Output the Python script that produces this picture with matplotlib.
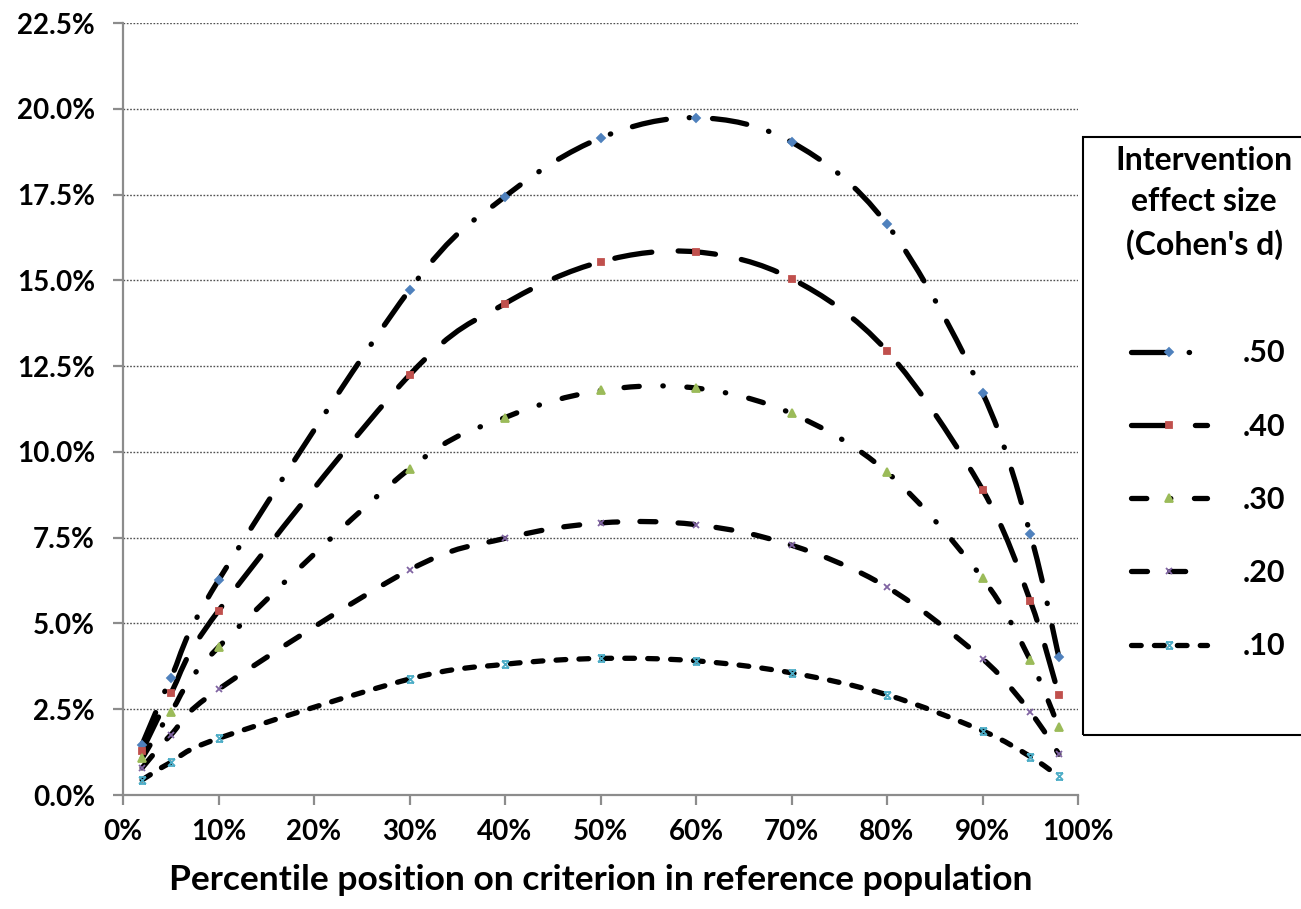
import numpy as np
import matplotlib
matplotlib.use("Agg")
import matplotlib.pyplot as plt
from matplotlib.path import Path
from matplotlib.patches import PathPatch, Rectangle
from matplotlib.lines import Line2D
from matplotlib.ticker import FuncFormatter, MultipleLocator

plt.rcParams['font.family'] = ['Lato', 'DejaVu Sans']
plt.rcParams['lines.scale_dashes'] = False

# percentile position (x, %) and share of population moved past it (y, %)
pct = [2, 5, 10, 30, 40, 50, 60, 70, 80, 90, 95, 98]

d50 = [1.47, 3.40, 6.26, 14.72, 17.44, 19.15, 19.74, 19.03, 16.63, 11.72, 7.61, 4.01]
d40 = [1.29, 2.96, 5.37, 12.24, 14.32, 15.54, 15.83, 15.05, 12.94, 8.90, 5.66, 2.91]
d30 = [1.07, 2.41, 4.31, 9.51, 11.00, 11.79, 11.86, 11.12, 9.41, 6.32, 3.93, 1.97]
d20 = [0.79, 1.75, 3.08, 6.56, 7.48, 7.93, 7.88, 7.28, 6.06, 3.97, 2.42, 1.19]
d10 = [0.44, 0.95, 1.65, 3.38, 3.81, 3.98, 3.91, 3.56, 2.92, 1.87, 1.12, 0.54]

labels = ['.50', '.40', '.30', '.20', '.10']
series = [d50, d40, d30, d20, d10]

# hourglass-like marker for the last series
star = Path([(-1, -1), (1, 1), (-1, 1), (1, -1), (-1, 1), (1, 1), (-1, -1), (1, -1)],
            [Path.MOVETO, Path.LINETO] * 4)

colors = ['#4F81BD', '#C0504D', '#9BBB59', '#8064A2', '#4BACC6']
markers = ['D', 's', '^', 'x', star]
msizes = [4.5, 5, 6, 5, 5]
dashes = [(0, (25, 16.5, 0.3, 16.5)),   # long dash dot
          (0, (27, 19)),                # long dash
          (0, (11, 17, 0.3, 17)),       # dash dot
          (0, (11.5, 16)),              # dash
          (0, (7, 9.5))]                # short dash
LW = 3.8


def smooth_path(x, y):
    # Catmull-Rom style bezier, like the spreadsheet "smoothed line"
    pts = np.column_stack([x, y]).astype(float)
    n = len(pts)
    verts = [pts[0]]
    codes = [Path.MOVETO]
    for i in range(n - 1):
        p0 = pts[max(i - 1, 0)]
        p1 = pts[i]
        p2 = pts[i + 1]
        p3 = pts[min(i + 2, n - 1)]
        verts += [p1 + (p2 - p0) / 6, p2 - (p3 - p1) / 6, p2]
        codes += [Path.CURVE4] * 3
    return Path(verts, codes)


fig = plt.figure(figsize=(13.01, 9.09), dpi=100)
ax = fig.add_axes([123 / 1301, 1 - 795 / 909, (1078 - 123) / 1301, (795 - 23) / 909])

handles = []
for vals, c, m, ms, ls in zip(series, colors, markers, msizes, dashes):
    patch = PathPatch(smooth_path(pct, vals), fill=False, edgecolor='black', lw=LW,
                      linestyle=ls, capstyle='round', zorder=2)
    ax.add_patch(patch)
    ax.plot(pct, vals, linestyle='none', marker=m, ms=ms, color=c, mew=1.3, zorder=3)
    handles.append(Line2D([], [], color='black', lw=LW, linestyle=ls, dash_capstyle='round',
                          marker=m, ms=ms, markerfacecolor=c, markeredgecolor=c, mew=1.3))

ax.set_xlim(0, 100)
ax.set_ylim(0, 22.5)
ax.xaxis.set_major_locator(MultipleLocator(10))
ax.yaxis.set_major_locator(MultipleLocator(2.5))
ax.xaxis.set_major_formatter(FuncFormatter(lambda v, p: f'{v:.0f}%'))
ax.yaxis.set_major_formatter(FuncFormatter(lambda v, p: f'{v:.1f}%'))

ax.yaxis.grid(True, linestyle=(0, (1.2, 1.2)), color='#505050', lw=1.0)
ax.set_axisbelow(True)
for s in ['top', 'right']:
    ax.spines[s].set_visible(False)
for s in ['left', 'bottom']:
    ax.spines[s].set_color('#8c8c8c')
    ax.spines[s].set_linewidth(1.6)
ax.tick_params(axis='both', direction='out', length=7.2, width=1.6, color='#8c8c8c',
               labelsize=20)
ax.tick_params(axis='y', pad=13)
ax.tick_params(axis='x', pad=10)
for t in ax.get_xticklabels() + ax.get_yticklabels():
    t.set_fontweight('bold')

ax.set_xlabel('Percentile position on criterion in reference population',
              fontsize=25.5, fontweight='bold', labelpad=14)

# legend box, title and entries
fig.add_artist(Rectangle((1083 / 1301, 1 - 735 / 909), 0.3, (735 - 137) / 909,
                         transform=fig.transFigure, fill=False, edgecolor='black',
                         lw=1.5, clip_on=False))
fig.text(1204 / 1301, 1 - 203 / 909, "Intervention\neffect size\n(Cohen's d)",
         ha='center', va='center', multialignment='center', fontsize=23,
         fontweight='bold', linespacing=1.52)
leg = fig.legend(handles, labels, loc='upper center',
                 bbox_to_anchor=(1208 / 1301, 1 - 312 / 909), frameon=False,
                 prop={'weight': 'bold', 'size': 22}, handlelength=2.5,
                 labelspacing=1.48, handletextpad=1.15, numpoints=1)

fig.savefig('out.png', dpi=100)
